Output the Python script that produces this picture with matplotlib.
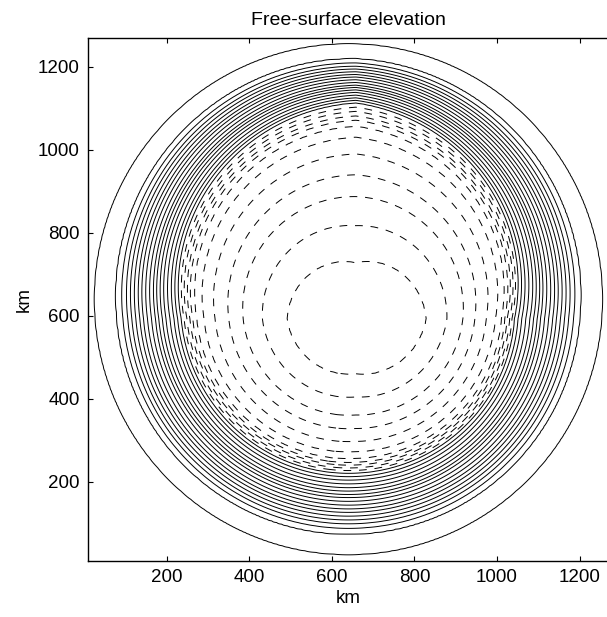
import numpy as np
import matplotlib.pyplot as plt

plt.rcParams['font.family'] = ['Liberation Sans', 'DejaVu Sans']

# basin geometry (km)
basin_center = (640.0, 640.0)
basin_radius = 615.0
low_center = (658.0, 593.0)

# contour levels and where they cross the line north of the low (fraction of distance to the wall)
level_vals = list(range(-11, 18))
q_north = [0.204, 0.339, 0.445, 0.524, 0.600, 0.661, 0.701, 0.723, 0.738, 0.755, 0.770,
           0.786, 0.795, 0.804, 0.814, 0.824, 0.833, 0.842, 0.850, 0.860, 0.870,
           0.880, 0.889, 0.899, 0.909, 0.919, 0.931, 0.946, 1.0]

# inner edge of the solid ring and innermost dashed contour by direction (deg)
dir_angles = [0, 90, 180, 270]
q_ring = [0.645, 0.786, 0.670, 0.655]
q_inner = [0.288, 0.204, 0.265, 0.235]

xx = np.arange(10, 1271, 4.0)
X, Y = np.meshgrid(xx, xx)

dx = X - low_center[0]
dy = Y - low_center[1]
dist = np.hypot(dx, dy) + 1e-9
ux, uy = dx / dist, dy / dist
ddx = low_center[0] - basin_center[0]
ddy = low_center[1] - basin_center[1]
b = ddx * ux + ddy * uy
wall = -b + np.sqrt(b ** 2 - (ddx ** 2 + ddy ** 2 - basin_radius ** 2))
q = dist / wall

theta = np.degrees(np.arctan2(dy, dx)) % 360
qr = np.interp(theta, dir_angles, q_ring, period=360)
qi = np.interp(theta, dir_angles, q_inner, period=360)
qn_i, qn_r = q_north[0], q_north[11]
q_eff = np.where(q < qi, q / qi * qn_i,
                 np.where(q < qr, qn_i + (q - qi) / (qr - qi) * (qn_r - qn_i),
                          qn_r + (q - qr) / (1 - qr) * (1 - qn_r)))

eta = np.interp(q_eff, [0.0] + q_north + [1.08], [-12.0] + level_vals + [17.6])
r0 = np.hypot(X - basin_center[0], Y - basin_center[1])
eta = np.where(r0 > basin_radius + 10, np.nan, eta)

fig = plt.figure(figsize=(6.07, 6.17), dpi=100)
# axes run past the right edge of the picture, as in the original crop
ax = fig.add_axes([0.1455, 0.0912, 0.857, 0.8477])
styles = [(0, (8, 8)) if v < 0 else 'solid' for v in level_vals]
ax.contour(X, Y, eta, levels=level_vals, colors='k', linewidths=0.7, linestyles=styles)

ax.set_xlim(10, 1270)
ax.set_ylim(10, 1270)
ax.set_xticks([200, 400, 600, 800, 1000, 1200])
ax.set_yticks([200, 400, 600, 800, 1000, 1200])
ax.tick_params(direction='in', top=True, right=False, length=3.6, width=0.8,
               labelsize=13.5, pad=6)
for s in ax.spines.values():
    s.set_linewidth(1.0)
ax.spines['right'].set_visible(False)
ax.set_xlabel('km', fontsize=13.5, labelpad=3)
ax.set_ylabel('km', fontsize=13.5, labelpad=4)
ax.set_title('Free-surface elevation', fontsize=14, pad=9)

fig.savefig('out.png', dpi=100)
